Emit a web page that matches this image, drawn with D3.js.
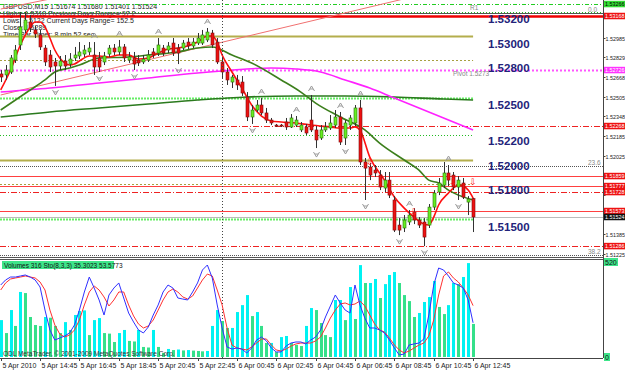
<!DOCTYPE html>
<html>
<head>
<meta charset="utf-8">
<script src="https://cdn.jsdelivr.net/npm/d3@7"></script>
<style>
  body { margin: 0; background: #fff; }
  svg text { font-family: "Liberation Sans", Arial, sans-serif; }
</style>
</head>
<body>
<div id="chart"></div>
<script>
// GBPUSD M15, one bar every 15 minutes from 5 Apr 12:45
const ohlc = [
  [1.52694,1.52726,1.52628,1.52669],[1.52686,1.52767,1.52645,1.52726],[1.52710,1.52849,1.52694,1.52825],[1.52808,1.52931,1.52784,1.52890],
  [1.52931,1.53201,1.52890,1.53078],[1.53054,1.53201,1.53029,1.53135],[1.53119,1.53176,1.53037,1.53070],[1.53054,1.53086,1.52988,1.53021],
  [1.53013,1.53054,1.52890,1.52915],[1.52906,1.52931,1.52759,1.52792],[1.52849,1.52890,1.52710,1.52751],[1.52792,1.52825,1.52596,1.52759],
  [1.52759,1.52841,1.52726,1.52800],[1.52800,1.52849,1.52726,1.52759],[1.52775,1.52865,1.52751,1.52816],[1.52825,1.52915,1.52800,1.52849],
  [1.52841,1.52955,1.52816,1.52874],[1.52857,1.52931,1.52833,1.52890],[1.52874,1.52955,1.52849,1.52906],[1.52849,1.52955,1.52686,1.52751],
  [1.52825,1.52874,1.52710,1.52751],[1.52792,1.52874,1.52767,1.52841],[1.52857,1.52931,1.52833,1.52906],[1.52906,1.52939,1.52849,1.52874],
  [1.52874,1.52972,1.52849,1.52915],[1.52915,1.52939,1.52792,1.52825],[1.52808,1.52874,1.52784,1.52833],[1.52825,1.52874,1.52726,1.52775],
  [1.52808,1.52849,1.52759,1.52784],[1.52792,1.52849,1.52775,1.52816],[1.52808,1.52890,1.52792,1.52849],[1.52874,1.52906,1.52825,1.52849],
  [1.52865,1.52988,1.52841,1.52931],[1.52906,1.52931,1.52841,1.52865],[1.52890,1.52955,1.52865,1.52923],[1.52947,1.52988,1.52841,1.52865],
  [1.52906,1.52939,1.52775,1.52865],[1.52906,1.52972,1.52890,1.52947],[1.52955,1.52988,1.52898,1.52923],[1.52923,1.52988,1.52906,1.52955],
  [1.52947,1.53029,1.52931,1.52988],[1.52947,1.53054,1.52931,1.53013],[1.52972,1.53070,1.52955,1.53037],[1.53029,1.53054,1.52906,1.52931],
  [1.52955,1.52988,1.52775,1.52792],[1.52792,1.52825,1.52661,1.52710],[1.52710,1.52743,1.52604,1.52645],[1.52628,1.52686,1.52579,1.52669],
  [1.52645,1.52686,1.52563,1.52604],[1.52628,1.52677,1.52514,1.52538],[1.52506,1.52546,1.52309,1.52342],[1.52342,1.52440,1.52285,1.52399],
  [1.52399,1.52481,1.52383,1.52440],[1.52440,1.52497,1.52358,1.52375],[1.52375,1.52416,1.52293,1.52317],[1.52317,1.52334,1.52276,1.52293],
  [1.52276,1.52285,1.52260,1.52268],[1.52276,1.52285,1.52260,1.52268],[1.52301,1.52334,1.52236,1.52260],[1.52260,1.52366,1.52252,1.52334],
  [1.52276,1.52350,1.52260,1.52317],[1.52236,1.52301,1.52219,1.52276],[1.52260,1.52285,1.52195,1.52211],[1.52317,1.52522,1.52219,1.52236],
  [1.52236,1.52268,1.52088,1.52154],[1.52170,1.52276,1.52154,1.52236],[1.52236,1.52301,1.52219,1.52260],[1.52252,1.52358,1.52236,1.52293],
  [1.52276,1.52399,1.52252,1.52342],[1.52342,1.52383,1.52113,1.52137],[1.52170,1.52317,1.52113,1.52293],[1.52276,1.52358,1.52236,1.52334],
  [1.52293,1.52440,1.52268,1.52416],[1.52416,1.52481,1.51949,1.51974],[1.51974,1.52006,1.51663,1.51924],[1.51933,1.51965,1.51826,1.51867],
  [1.51908,1.51949,1.51851,1.51884],[1.51867,1.51908,1.51744,1.51769],[1.51761,1.51892,1.51728,1.51826],[1.51826,1.51892,1.51679,1.51703],
  [1.51663,1.51695,1.51401,1.51417],[1.51458,1.51515,1.51376,1.51417],[1.51434,1.51540,1.51401,1.51499],[1.51483,1.51581,1.51458,1.51540],
  [1.51564,1.51597,1.51466,1.51499],[1.51499,1.51523,1.51434,1.51458],[1.51483,1.51515,1.51286,1.51360],[1.51458,1.51630,1.51434,1.51605],
  [1.51605,1.51744,1.51581,1.51720],[1.51728,1.51843,1.51703,1.51802],[1.51785,1.51974,1.51761,1.51884],[1.51884,1.51949,1.51777,1.51826],
  [1.51867,1.51892,1.51744,1.51769],[1.51769,1.51859,1.51663,1.51826],[1.51802,1.51843,1.51671,1.51687],[1.51646,1.51695,1.51540,1.51671],
  [1.51674,1.51680,1.51401,1.51524]
];

const volumes = [
  202,131,257,170,356,350,219,175,170,219,215,170,131,191,148,230,252,255,120,202,
  213,131,128,82,131,148,88,85,148,55,52,148,55,22,44,38,41,36,38,35,
  33,31,33,170,257,197,159,159,246,284,339,224,246,170,77,77,27,109,115,77,
  66,60,170,268,257,186,120,109,312,312,202,383,208,503,405,405,427,323,399,449,
  465,405,339,306,219,241,301,328,416,274,235,284,405,399,438,514,181
];

const stochMain = [
  75.5,80.9,84.0,84.0,85.1,86.2,84.0,80.9,73.4,48.9,27.7,17.0,19.1,21.3,24.5,33.0,48.9,68.1,84.0,72.3,
  59.6,43.6,64.9,72.3,77.7,61.7,45.7,36.2,27.7,24.5,30.9,43.6,54.3,68.1,75.5,72.3,61.7,60.6,59.6,68.1,
  77.7,91.5,96.8,83.0,54.3,29.8,9.6,7.4,8.5,7.4,3.2,8.5,17.0,20.2,16.0,8.5,4.3,4.3,10.6,13.8,
  14.9,14.9,12.8,17.0,20.2,27.7,41.5,53.2,64.9,56.4,48.9,45.7,75.5,54.3,40.4,29.8,29.8,27.7,24.5,17.0,
  8.5,1.1,2.1,11.7,12.8,13.8,18.1,43.6,75.5,93.6,91.5,85.1,77.7,75.5,72.3,59.6,35.3
];
const stochSignal = [
  70.2,77.7,81.9,83.0,84.0,85.1,84.0,83.0,78.7,70.2,48.9,33.0,23.4,20.2,22.3,27.7,38.3,54.3,68.1,74.5,
  70.2,62.8,53.2,59.6,68.1,68.1,54.3,42.6,34.0,29.8,31.9,38.3,48.9,59.6,68.1,71.3,68.1,62.8,60.6,63.8,
  72.3,80.9,87.2,85.1,70.2,54.3,29.8,11.7,8.5,7.4,6.4,9.6,13.8,18.1,18.1,11.7,6.4,5.3,7.4,10.6,
  12.8,13.8,13.8,13.8,16.0,20.2,29.8,40.4,48.9,55.3,56.4,54.3,55.3,58.5,53.2,43.6,34.0,27.7,25.5,19.1,
  11.7,6.4,3.2,5.3,8.5,11.7,13.8,21.3,38.3,64.9,85.1,89.4,83.0,78.7,72.3,64.9,53.6
];

// moving averages as [bar, price]
const maFast = [[0,1.52563],[2,1.52726],[4,1.52931],[6,1.53078],[7,1.53119],[8,1.53119],[9,1.53078],[10,1.52988],[11,1.52890],
  [12,1.52825],[13,1.52784],[14,1.52767],[15,1.52775],[16,1.52800],[18,1.52841],[20,1.52841],[22,1.52833],[24,1.52849],[26,1.52849],
  [28,1.52816],[30,1.52825],[32,1.52865],[34,1.52898],[36,1.52906],[38,1.52923],[40,1.52955],[42,1.53005],[43,1.53005],[44,1.52955],
  [45,1.52849],[47,1.52710],[49,1.52579],[51,1.52440],[53,1.52350],[55,1.52309],[57,1.52301],[60,1.52293],[63,1.52276],[67,1.52260],
  [69,1.52252],[71,1.52252],[72,1.52260],[73,1.52236],[75,1.52014],[78,1.51826],[80,1.51687],[82,1.51597],[84,1.51523],[86,1.51466],
  [87,1.51458],[88,1.51523],[89,1.51622],[91,1.51720],[92,1.51761],[93,1.51785],[94,1.51777],[95,1.51744],[96,1.51679]];
const maMid = [[0,1.52399],[3,1.52481],[6,1.52563],[9,1.52645],[11,1.52710],[14,1.52743],[16,1.52767],[20,1.52825],[26,1.52833],
  [30,1.52849],[36,1.52874],[40,1.52906],[43,1.52915],[47,1.52849],[51,1.52784],[57,1.52645],[61,1.52546],[64,1.52456],[69,1.52342],
  [74,1.52236],[77,1.52129],[82,1.51990],[85,1.51908],[87,1.51826],[89,1.51802],[91,1.51744],[93,1.51703],[96,1.51663]];
const maSlow = [[0,1.52546],[10,1.52579],[20,1.52620],[30,1.52661],[40,1.52702],[45,1.52718],[50,1.52735],[55,1.52743],[60,1.52735],
  [65,1.52710],[70,1.52645],[75,1.52579],[80,1.52497],[85,1.52416],[90,1.52334],[96,1.52236]];
const maLong = [[0,1.52342],[10,1.52383],[20,1.52416],[30,1.52448],[40,1.52481],[50,1.52506],[60,1.52514],[70,1.52514],[80,1.52506],
  [90,1.52489],[96,1.52481]];
const trendLines = [[[0,1.52522],[81,1.53299]], [[0,1.53225],[9,1.53299]]];

// horizontal levels
const redSolidLevels = [1.53168, 1.51859, 1.51777, 1.51573];
const redDashLevels = [1.52268, 1.51728, 1.51286];
const oliveSolidLevels = [1.53005, 1.51990];
const oliveDotLevels = [1.52808, 1.51793];
const greenDotLevels = [1.53201, 1.52195];
const limeLevels = [1.52497, 1.51507];
const r1Level = 1.53266;
const pivotLevel = 1.52726;
const fibLevels = [[1.53193, "0.0"], [1.51941, "23.6"], [1.51213, "38.2"]];
const bidPrice = 1.51524;
const roundLevels = [1.532, 1.530, 1.528, 1.525, 1.522, 1.520, 1.518, 1.515];
const priceTicks = [1.51225,1.51385,1.51545,1.51705,1.51865,1.52025,1.52185,1.52348,1.52505,1.52668,1.52829,1.52985,1.53148];

const fractalUp = [19, 24, 32, 42, 53, 60, 63, 69, 73, 83, 91];
const fractalDown = [11, 20, 27, 36, 51, 64, 70, 74, 81, 86, 93];
const signalArrows = [[75,1.51975],[84,1.51564],[92,1.51810],[96,1.51810]];

const timeLabels = ["5 Apr 2010","5 Apr 14:45","5 Apr 16:45","5 Apr 18:45","5 Apr 20:45","5 Apr 22:45",
  "6 Apr 00:45","6 Apr 02:45","6 Apr 04:45","6 Apr 06:45","6 Apr 08:45","6 Apr 10:45","6 Apr 12:45"];
const daySeparator = 45;

const headerLines = ["GBPUSD,M15  1.51674 1.51680 1.51401 1.51524",
  "Highs: 1.5318    Previous Days Range= 97.2",
  "Lows: 1.5122    Current Days Range= 152.5",
  "Close: 1.5289",
  "Time Bar Timer: 8 min 52 sec"];

// ---- layout
const width = 625, height = 370;
const plotRight = 603, mainBottom = 256, subTop = 259, subBottom = 358;
const lastBar = ohlc.length - 1;

const x = d3.scaleLinear().domain([0, 122.4]).range([0.7, plotRight]);
const y = d3.scaleLinear().domain([1.51205, 1.53299]).range([mainBottom, 0]);
const yVol = d3.scaleLinear().domain([0, 520]).range([357, 262]);
const ySto = d3.scaleLinear().domain([0, 100]).range([356, 262]);
const px = i => Math.round(x(i));

const svg = d3.select("#chart").append("svg")
  .attr("width", width).attr("height", height)
  .attr("viewBox", [0, 0, width, height]);

svg.append("rect").attr("width", width).attr("height", height).attr("fill", "#fff");
const defs = svg.append("defs");
defs.append("clipPath").attr("id", "clipMain").append("rect")
  .attr("x", 0).attr("y", 0).attr("width", plotRight).attr("height", mainBottom);
defs.append("clipPath").attr("id", "clipSub").append("rect")
  .attr("x", 0).attr("y", subTop + 1).attr("width", plotRight).attr("height", subBottom - subTop - 1);

const main = svg.append("g").attr("clip-path", "url(#clipMain)");

// header text sits behind the chart
main.append("g").selectAll("text").data(headerLines).join("text")
  .attr("x", 3).attr("y", (d, i) => 8.5 + i * 7)
  .attr("font-size", 7).attr("fill", "#222").text(d => d);

// horizontal levels
function hline(price, color, w, dash, toX) {
  main.append("line")
    .attr("x1", 0).attr("x2", toX)
    .attr("y1", Math.round(y(price)) + 0.5).attr("y2", Math.round(y(price)) + 0.5)
    .attr("stroke", color).attr("stroke-width", w)
    .attr("stroke-dasharray", dash);
}
const levelEnd = x(lastBar);
hline(r1Level, "#22cc22", 1, "4,2,1,2", plotRight);
greenDotLevels.forEach(p => hline(p, "#22bb22", 1, "1,2", p > 1.53 ? plotRight : levelEnd));
fibLevels.forEach(f => hline(f[0], "#555", 1, f[1] == "0.0" ? null : "1,1", plotRight));
redSolidLevels.forEach((p, i) => hline(p, i == 0 ? "#ee0000" : "#ff4040", i == 0 ? 2.5 : 1, null, plotRight));
redDashLevels.forEach(p => hline(p, "#ee2222", 1, "6,2,1,2", plotRight));
oliveSolidLevels.forEach(p => hline(p, "#b4ae4c", 2, null, levelEnd));
oliveDotLevels.forEach(p => hline(p, "#a8a040", 1, "2,2", levelEnd));
hline(pivotLevel, "#ff55ff", 2, "2,2", plotRight);
limeLevels.forEach(p => hline(p, "#66ee66", 2, "2,1", levelEnd));
hline(bidPrice, "#bbbbbb", 1, null, plotRight);

// day separator
svg.append("line")
  .attr("x1", px(daySeparator) + 0.5).attr("x2", px(daySeparator) + 0.5)
  .attr("y1", 0).attr("y2", subBottom)
  .attr("stroke", "#444").attr("stroke-dasharray", "1,2");

// trend lines and moving averages
const priceLine = d3.line().x(d => x(d[0])).y(d => y(d[1]));
trendLines.forEach(t => {
  const slope = (t[1][1] - t[0][1]) / (t[1][0] - t[0][0]);
  const ext = [t[0], [122, t[0][1] + slope * 122]];
  main.append("path").attr("d", priceLine(ext))
    .attr("fill", "none").attr("stroke", "#f07070").attr("stroke-width", 1);
});
const maLine = d3.line().x(d => x(d[0])).y(d => y(d[1])).curve(d3.curveMonotoneX);
[[maLong, "#2b7a1e"], [maSlow, "#ff22ff"], [maMid, "#3c7f1c"], [maFast, "#ff1010"]].forEach(m => {
  main.append("path").attr("d", maLine(m[0]))
    .attr("fill", "none").attr("stroke", m[1]).attr("stroke-width", 1.6);
});

// candles
const candle = main.append("g");
candle.selectAll("line").data(ohlc).join("line")
  .attr("x1", (d, i) => px(i) + 0.5).attr("x2", (d, i) => px(i) + 0.5)
  .attr("y1", d => y(d[1])).attr("y2", d => y(d[2]))
  .attr("stroke", "#333").attr("stroke-width", 1);
candle.selectAll("rect").data(ohlc).join("rect")
  .attr("x", (d, i) => px(i) - 1)
  .attr("y", d => Math.min(y(d[0]), y(d[3])))
  .attr("width", 3)
  .attr("height", d => Math.max(1, Math.abs(y(d[0]) - y(d[3]))))
  .attr("fill", d => d[3] >= d[0] ? "#66ee22" : "#ee1111")
  .attr("stroke", d => d[3] >= d[0] ? "#2d6b10" : "#7a1010")
  .attr("stroke-width", 0.6);

// fractal markers
const marks = main.append("g").attr("fill", "none").attr("stroke", "#9a9a9a").attr("stroke-width", 1);
fractalUp.forEach(i => {
  const cx = px(i) + 0.5, cy = y(ohlc[i][1]) - 6;
  marks.append("path").attr("d", `M${cx - 3},${cy + 2}L${cx},${cy - 3}L${cx + 3},${cy + 2}M${cx - 1.5},${cy}H${cx + 1.5}`);
});
fractalDown.forEach(i => {
  const cx = px(i) + 0.5, cy = y(ohlc[i][2]) + 6;
  marks.append("path").attr("d", `M${cx - 3},${cy - 2}L${cx},${cy + 3}L${cx + 3},${cy - 2}M${cx - 1.5},${cy}H${cx + 1.5}`);
});
main.append("g").selectAll("text").data(signalArrows).join("text")
  .attr("x", d => x(d[0])).attr("y", d => y(d[1]) + 3)
  .attr("text-anchor", "middle").attr("font-size", 9).attr("fill", "#ff2020")
  .attr("font-family", "DejaVu Sans").text("\u21E9");

// round-number level captions
main.append("g").selectAll("text").data(roundLevels).join("text")
  .attr("x", 488).attr("y", d => y(d) + 11)
  .attr("font-size", 11.5).attr("font-weight", "bold").attr("fill", "#23237a")
  .text(d => d.toFixed(5));

// small captions
const small = [["R1", 470, y(r1Level) + 6], ["Pivot  1.5273", 453, y(pivotLevel) + 6]];
fibLevels.forEach(f => small.push([f[1], 588, y(f[0]) - 1]));
main.append("g").selectAll("text").data(small).join("text")
  .attr("x", d => d[1]).attr("y", d => d[2])
  .attr("font-size", 6.5).attr("fill", "#888").text(d => d[0]);

// ---- right price axis
const tags = [[r1Level, "#33dd33", "#000"], [pivotLevel, "#ff33ff", "#fff"]];
redSolidLevels.concat(redDashLevels).forEach(p => tags.push([p, "#ee1111", "#fff"]));
tags.push([bidPrice, "#111", "#fff"]);
// a tick label hidden under a coloured tag is not drawn
const freeTicks = priceTicks.filter(p => !tags.some(t => Math.abs(y(t[0]) - y(p)) < 7));
const tagH = 6.5, axisFont = 5.4;

const axis = svg.append("g");
axis.append("line").attr("x1", plotRight + 0.5).attr("x2", plotRight + 0.5)
  .attr("y1", 0).attr("y2", subBottom).attr("stroke", "#444");
axis.selectAll("line.tick").data(priceTicks).join("line").attr("class", "tick")
  .attr("x1", plotRight).attr("x2", plotRight + 2.5)
  .attr("y1", d => Math.round(y(d)) + 0.5).attr("y2", d => Math.round(y(d)) + 0.5)
  .attr("stroke", "#444");
axis.selectAll("text.tick").data(freeTicks).join("text").attr("class", "tick")
  .attr("x", plotRight + 2.5).attr("y", d => Math.round(y(d)) + 2.5)
  .attr("font-size", axisFont).attr("fill", "#222")
  .text(d => d.toFixed(5));

tags.forEach(t => {
  const ty = y(t[0]);
  axis.append("rect").attr("x", plotRight + 1).attr("y", ty - tagH / 2).attr("width", width - plotRight - 1).attr("height", tagH).attr("fill", t[1]);
  axis.append("text").attr("x", plotRight + 2).attr("y", ty + 2).attr("font-size", axisFont).attr("fill", t[2])
    .text(t[0].toFixed(5));
});

// ---- lower pane: volumes + stochastic
const sub = svg.append("g");
sub.append("line").attr("x1", 0).attr("x2", plotRight).attr("y1", subTop - 1.5).attr("y2", subTop - 1.5).attr("stroke", "#555");
sub.append("line").attr("x1", 0).attr("x2", plotRight).attr("y1", subTop + 0.5).attr("y2", subTop + 0.5).attr("stroke", "#555");
sub.append("line").attr("x1", 0).attr("x2", plotRight).attr("y1", subBottom + 0.5).attr("y2", subBottom + 0.5).attr("stroke", "#444");

const subPlot = sub.append("g").attr("clip-path", "url(#clipSub)");
subPlot.selectAll("rect").data(volumes).join("rect")
  .attr("x", (d, i) => px(i) - 1).attr("width", 3)
  .attr("y", d => yVol(d)).attr("height", d => yVol(0) - yVol(d))
  .attr("fill", (d, i) => i > 0 && d < volumes[i - 1] ? "#35e08a" : "#00f2f2");

const stoLine = d3.line().x((d, i) => x(i)).y(d => ySto(d));
subPlot.append("path").attr("d", stoLine(stochSignal)).attr("fill", "none").attr("stroke", "#ff3030").attr("stroke-width", 1);
subPlot.append("path").attr("d", stoLine(stochMain)).attr("fill", "none").attr("stroke", "#3030ff").attr("stroke-width", 1);

sub.append("rect").attr("x", 2).attr("y", 261).attr("width", 112).attr("height", 8).attr("fill", "#3ee58a");
sub.append("text").attr("x", 4).attr("y", 267.5).attr("font-size", 6.5).attr("fill", "#111")
  .text("Volumes 316   Sto(8,3,3) 35.3023 53.5773");
sub.append("text").attr("x", 3).attr("y", 356).attr("font-size", 6.5).attr("fill", "#333")
  .text("ODL MetaTrader, \u00A9 2001-2009 MetaQuotes Software Corp.");

[[520, "520"], [0, "0"]].forEach(t => {
  const ty = yVol(t[0]);
  sub.append("rect").attr("x", plotRight + 1).attr("y", ty - 4).attr("width", t[1].length * 4 + 2).attr("height", 8).attr("fill", "#3ee58a");
  sub.append("text").attr("x", plotRight + 2).attr("y", ty + 2.5).attr("font-size", 7).attr("fill", "#111").text(t[1]);
});

// ---- time axis
const timeAxis = svg.append("g");
timeLabels.forEach((t, k) => {
  const tx = px(k * 8) + 0.5;
  timeAxis.append("line").attr("x1", tx).attr("x2", tx).attr("y1", subBottom).attr("y2", subBottom + 3).attr("stroke", "#444");
  timeAxis.append("text").attr("x", tx + 1).attr("y", 368).attr("font-size", 7).attr("fill", "#222").text(t);
});
</script>
</body>
</html>
